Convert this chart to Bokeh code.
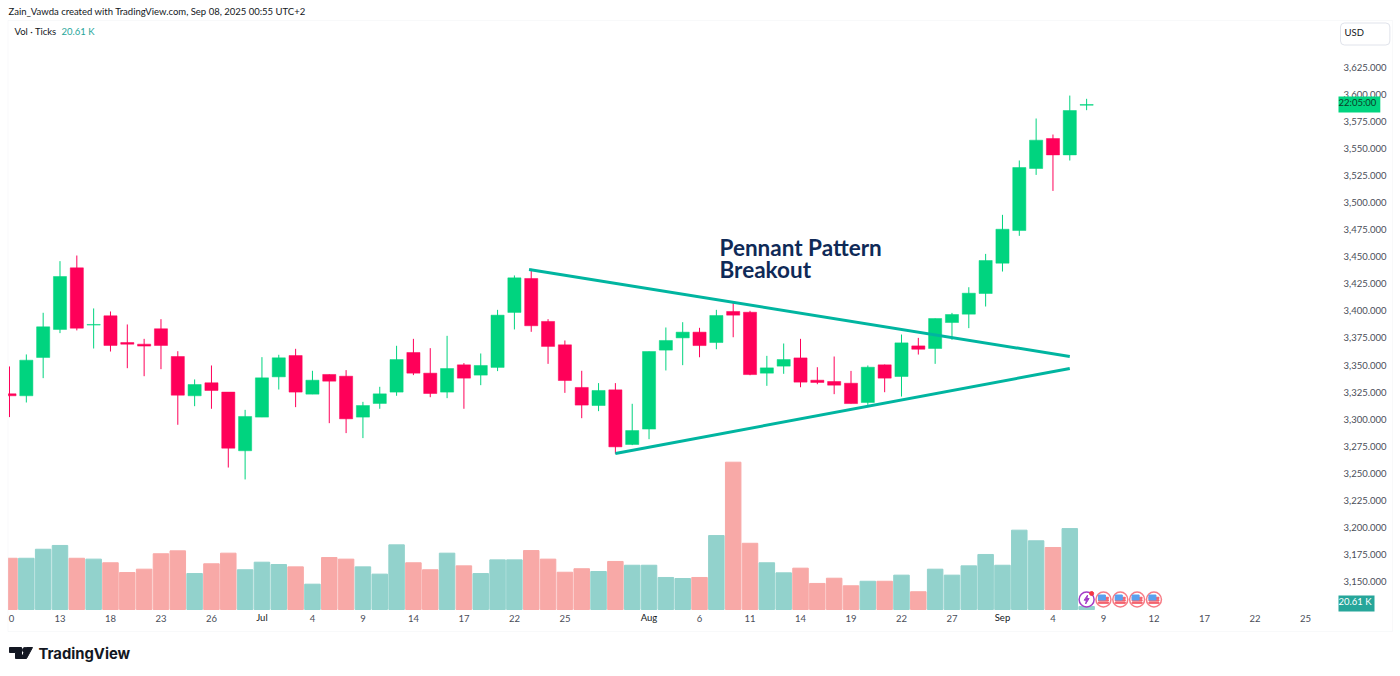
#!/usr/bin/env python3
"""XAUUSD style daily candles with tick volume and a pennant breakout drawing."""
from bokeh.core.properties import value
from bokeh.embed import file_html
from bokeh.models import (BoxAnnotation, ColumnDataSource, FixedTicker, Label, LinearAxis,
                          NumeralTickFormatter, Range1d)
from bokeh.plotting import figure
from bokeh.resources import INLINE

FONT = "Lato"
SMALL = "9.5px"
GREEN = "#00D47F"
RED = "#FF0059"
TEAL = "#00B5A0"
INK = "#131722"

# top and bottom are the candle body, up says which way it closed
highs = [3348.7, 3359.8, 3398.3, 3446.0, 3451.2, 3402.3, 3399.5, 3387.5, 3374.2, 3392.4,
         3362.8, 3336.7, 3349.6, 3325.0, 3308.6, 3357.3, 3359.5, 3365.0, 3344.7, 3341.3,
         3345.3, 3316.0, 3329.9, 3367.8, 3374.2, 3365.6, 3377.0, 3351.8, 3360.7, 3401.0,
         3432.8, 3438.9, 3392.4, 3372.7, 3344.7, 3333.3, 3333.3, 3314.2, 3362.5, 3384.7,
         3389.6, 3384.4, 3401.0, 3408.7, 3400.1, 3358.5, 3369.9, 3374.2, 3348.0, 3357.9,
         3344.6, 3349.6, 3350.5, 3378.2, 3375.1, 3393.0, 3398.2, 3421.9, 3452.7, 3488.8,
         3539.0, 3577.8, 3563.0, 3599.0, 3596.0]
lows = [3301.9, 3315.4, 3337.9, 3379.5, 3382.0, 3365.3, 3362.5, 3347.1, 3339.7, 3346.2,
        3294.8, 3312.0, 3309.6, 3255.3, 3244.3, 3301.9, 3327.4, 3311.1, 3323.1, 3296.3,
        3287.1, 3282.5, 3309.6, 3321.6, 3340.7, 3320.3, 3319.4, 3309.6, 3331.4, 3344.4,
        3382.9, 3380.7, 3351.1, 3324.3, 3300.9, 3307.4, 3268.0, 3276.0, 3281.5, 3345.0,
        3349.9, 3357.2, 3364.6, 3375.7, 3340.6, 3330.8, 3341.9, 3329.5, 3332.3, 3323.1,
        3314.4, 3313.2, 3324.9, 3320.9, 3359.7, 3351.1, 3373.3, 3384.1, 3404.1, 3436.4,
        3469.4, 3525.7, 3510.9, 3539.0, 3585.5]
tops = [3323.4, 3354.5, 3385.3, 3431.8, 3439.8, 3387.5, 3395.5, 3370.8, 3369.3, 3383.5,
        3357.9, 3332.0, 3333.6, 3325.0, 3302.5, 3338.2, 3356.7, 3358.8, 3336.0, 3341.3,
        3339.7, 3312.6, 3323.4, 3355.1, 3361.6, 3342.5, 3346.8, 3350.2, 3349.6, 3396.1,
        3430.6, 3430.0, 3390.3, 3368.7, 3329.3, 3326.5, 3327.1, 3289.5, 3362.5, 3372.7,
        3380.4, 3380.4, 3395.8, 3399.5, 3398.8, 3347.4, 3355.1, 3356.6, 3336.0, 3334.8,
        3333.2, 3348.0, 3350.2, 3370.5, 3367.7, 3393.0, 3396.7, 3416.4, 3446.6, 3475.5,
        3532.5, 3557.8, 3559.3, 3585.2, 3590.7]
bottoms = [3321.6, 3321.6, 3357.0, 3382.9, 3384.1, 3386.9, 3368.1, 3369.3, 3367.5, 3368.1,
           3322.2, 3321.6, 3326.5, 3273.2, 3270.8, 3301.9, 3339.1, 3325.0, 3323.1, 3335.1,
           3300.3, 3301.9, 3314.5, 3325.0, 3342.5, 3323.7, 3325.0, 3337.9, 3340.7, 3347.8,
           3398.6, 3386.3, 3367.2, 3335.7, 3313.0, 3312.6, 3274.4, 3276.6, 3290.8, 3363.8,
           3375.1, 3368.0, 3370.8, 3396.1, 3341.2, 3342.5, 3349.0, 3334.2, 3333.9, 3331.4,
           3314.4, 3315.4, 3337.9, 3339.4, 3364.6, 3365.3, 3389.3, 3397.0, 3416.1, 3444.1,
           3474.3, 3531.6, 3544.2, 3544.2, 3590.1]
up = [0, 1, 1, 1, 0, 1, 0, 0, 0, 0, 0, 1, 0, 0, 1, 1, 1, 0, 1, 0, 0, 1, 1, 1, 0, 0, 1, 0, 1, 1,
      1, 0, 0, 0, 0, 1, 0, 1, 1, 1, 1, 0, 1, 0, 0, 1, 1, 0, 0, 0, 0, 1, 0, 1, 0, 1, 1, 1, 1, 1,
      1, 1, 0, 1, 1]
volume_k = [352, 352, 414, 440, 352, 346, 321, 254, 277, 383, 403, 247, 314, 387, 273, 325, 309,
            293, 174, 357, 346, 293, 243, 444, 321, 273, 387, 300, 247, 341, 341, 405, 346, 256,
            280, 261, 330, 304, 304, 220, 213, 220, 508, 1012, 455, 321, 252, 284, 179, 215, 163,
            194, 194, 236, 122, 277, 236, 300, 378, 304, 545, 472, 426, 556, 20.61]

price_ticks = [3150, 3175, 3200, 3225, 3250, 3275, 3300, 3325, 3350, 3375, 3400, 3425, 3450,
               3475, 3500, 3525, 3550, 3575, 3600, 3625]
day_ticks = {0.12: "0", 3: "13", 6: "18", 9: "23", 12: "26", 18: "4", 21: "9", 24: "14", 27: "17",
             30: "22", 33: "25", 41: "6", 44: "11", 47: "14", 50: "19", 53: "22", 56: "27",
             62: "4", 65: "9", 68: "12", 71: "17", 74: "22", 77: "25"}
month_ticks = {15: "Jul", 38: "Aug", 59: "Sep"}

# pennant drawing, (bar, price) at each end
upper_x, upper_y = [30.87, 63.0], [3438.3, 3357.9]
lower_x, lower_y = [36.0, 63.0], [3268.3, 3346.8]

event_bar = 64
flag_bars = [65, 66, 67, 68]

# scale of the picture, the frame fills the whole page
BAR_PX = 16.83
PRICE_PX = 0.924
W, H = 1400, 676


def bar_at(px):
    return (px - 9.0) / BAR_PX


def price_at(py):
    return 3150 + (581 - py) * PRICE_PX


xs = list(range(len(highs)))
source = ColumnDataSource(dict(
    x=xs, high=highs, low=lows, top=tops, bottom=bottoms, vol=volume_k,
    color=[GREEN if u else RED for u in up],
    vol_color=["#92D2CC" if u else "#F8A9A7" for u in up],
))

p = figure(width=W, height=H, output_backend="svg", toolbar_location=None,
           x_range=Range1d(bar_at(0), bar_at(W)), y_range=Range1d(price_at(H), price_at(0)),
           x_axis_type=None, y_axis_type=None, tools="",
           min_border_left=0, min_border_right=0, min_border_top=0, min_border_bottom=0)
p.grid.visible = False
p.outline_line_color = None
p.extra_y_ranges["vol"] = Range1d(-67 * 6.87, 609 * 6.87)

p.vbar(x="x", top="vol", bottom=0, width=0.92, color="vol_color", source=source, y_range_name="vol")
p.segment(x0="x", x1="x", y0="low", y1="high", color="color", line_width=1, source=source)
p.vbar(x="x", top="top", bottom="bottom", width=0.78, fill_color="color", line_color="color",
       line_width=0.5, source=source)

p.line(upper_x, upper_y, color=TEAL, line_width=3)
p.line(lower_x, lower_y, color=TEAL, line_width=3)

p.text(x=[bar_at(719)] * 2, y=[price_at(247), price_at(269)], text=["Pennant Pattern", "Breakout"],
       text_font=value(FONT), text_font_size="22.5px", text_font_style="bold", text_color="#0F2A57",
       text_baseline="middle")

# pane border, anything left of it is cut off
p.add_layout(BoxAnnotation(left=0, right=7.5, top=H, bottom=0, left_units="screen", right_units="screen",
                           top_units="screen", bottom_units="screen", fill_color="white", fill_alpha=1,
                           line_color=None))
p.add_layout(BoxAnnotation(left=7.5, right=1392, top=H - 20, bottom=H - 631, left_units="screen",
                           right_units="screen", top_units="screen", bottom_units="screen", fill_alpha=0,
                           line_color="#E8EAEF", line_width=1))

# economic calendar icons below the last bars
icon_y = price_at(599)
p.scatter([event_bar], [icon_y], size=15, fill_color="white", line_color="#A43CC8", line_width=1.5)
bolt_x = [1, -2.5, -0.3, -1, 2.5, 0.3]
bolt_y = [-4.5, 0.7, 0.7, 4.5, -1, -1]
p.patch([event_bar + dx / BAR_PX for dx in bolt_x], [icon_y - dy * PRICE_PX for dy in bolt_y], color="#A43CC8")
p.scatter([event_bar + 5 / BAR_PX], [icon_y + 6 * PRICE_PX], size=4, color="#F23645")
p.scatter(flag_bars, [icon_y] * 4, size=15, fill_color="white", line_color="#F77C86", line_width=1.5)
for off in (-3.2, -0.8, 1.6):
    p.rect(flag_bars, [icon_y + off * PRICE_PX] * 4, width=10 / BAR_PX, height=1.3 * PRICE_PX, color="#F4606C")
p.rect([b - 1.5 / BAR_PX for b in flag_bars], [icon_y + 2 * PRICE_PX] * 4, width=7 / BAR_PX,
       height=5 * PRICE_PX, color="#5AA0EE")

price_axis = LinearAxis(fixed_location=bar_at(1341), ticker=FixedTicker(ticks=price_ticks),
                        formatter=NumeralTickFormatter(format="0,0.000"))
day_axis = LinearAxis(fixed_location=price_at(609), ticker=FixedTicker(ticks=list(day_ticks)),
                      major_label_overrides=day_ticks)
month_axis = LinearAxis(fixed_location=price_at(609), ticker=FixedTicker(ticks=list(month_ticks)),
                        major_label_overrides=month_ticks)
for ax in (price_axis, day_axis, month_axis):
    ax.axis_line_color = None
    ax.major_tick_line_color = None
    ax.minor_tick_line_color = None
    ax.major_tick_out = 0
    ax.major_tick_in = 0
    ax.major_label_text_font = FONT
    ax.major_label_text_font_size = SMALL
    ax.major_label_text_color = "#4A4E59"
    ax.major_label_standoff = 2
month_axis.major_label_text_color = INK
day_axis.major_label_standoff = 5
month_axis.major_label_standoff = 2
p.add_layout(price_axis, "right")
p.add_layout(day_axis, "below")
p.add_layout(month_axis, "below")


def text_label(x, y, text, size=SMALL, color=INK, font=FONT, **kw):
    # x and y are picture pixels from the top left, screen units count up from the bottom
    p.add_layout(Label(x=x, y=H - y, x_units="screen", y_units="screen", text=text, text_font=font,
                       text_font_size=size, text_color=color, text_baseline="middle", **kw))


text_label(8, 11, "Zain_Vawda created with TradingView.com, Sep 08, 2025 00:55 UTC+2")
text_label(14, 31, "Vol · Ticks")
text_label(61, 31, "20.61 K", color="#26A69A")
text_label(1340, 33.5, "USD", border_line_color="#E0E3EB", border_radius=4, padding=(4, 26, 4, 7))
text_label(1338, 104, "22:05:00", color="#0B3B28", background_fill_color=GREEN, padding=(0, 4, 0, 5))
text_label(1338, 603, "20.61 K", color="white", background_fill_color="#26A69A", padding=(0, 3, 0, 5))

# TradingView mark under the pane
p.patch([bar_at(v) for v in (9, 21, 21, 15, 15, 9)], [price_at(v) for v in (647, 647, 658, 658, 652, 652)], color=INK)
p.patch([bar_at(v) for v in (26, 32, 26, 20.5)], [price_at(v) for v in (647, 647, 658, 658)], color=INK)
p.scatter([bar_at(24.5)], [price_at(649.5)], size=5, color=INK)
text_label(38, 653, "TradingView", size="14.8px", font="Inter", text_font_style="bold")

open("out.html", "w").write(file_html(p, INLINE))
